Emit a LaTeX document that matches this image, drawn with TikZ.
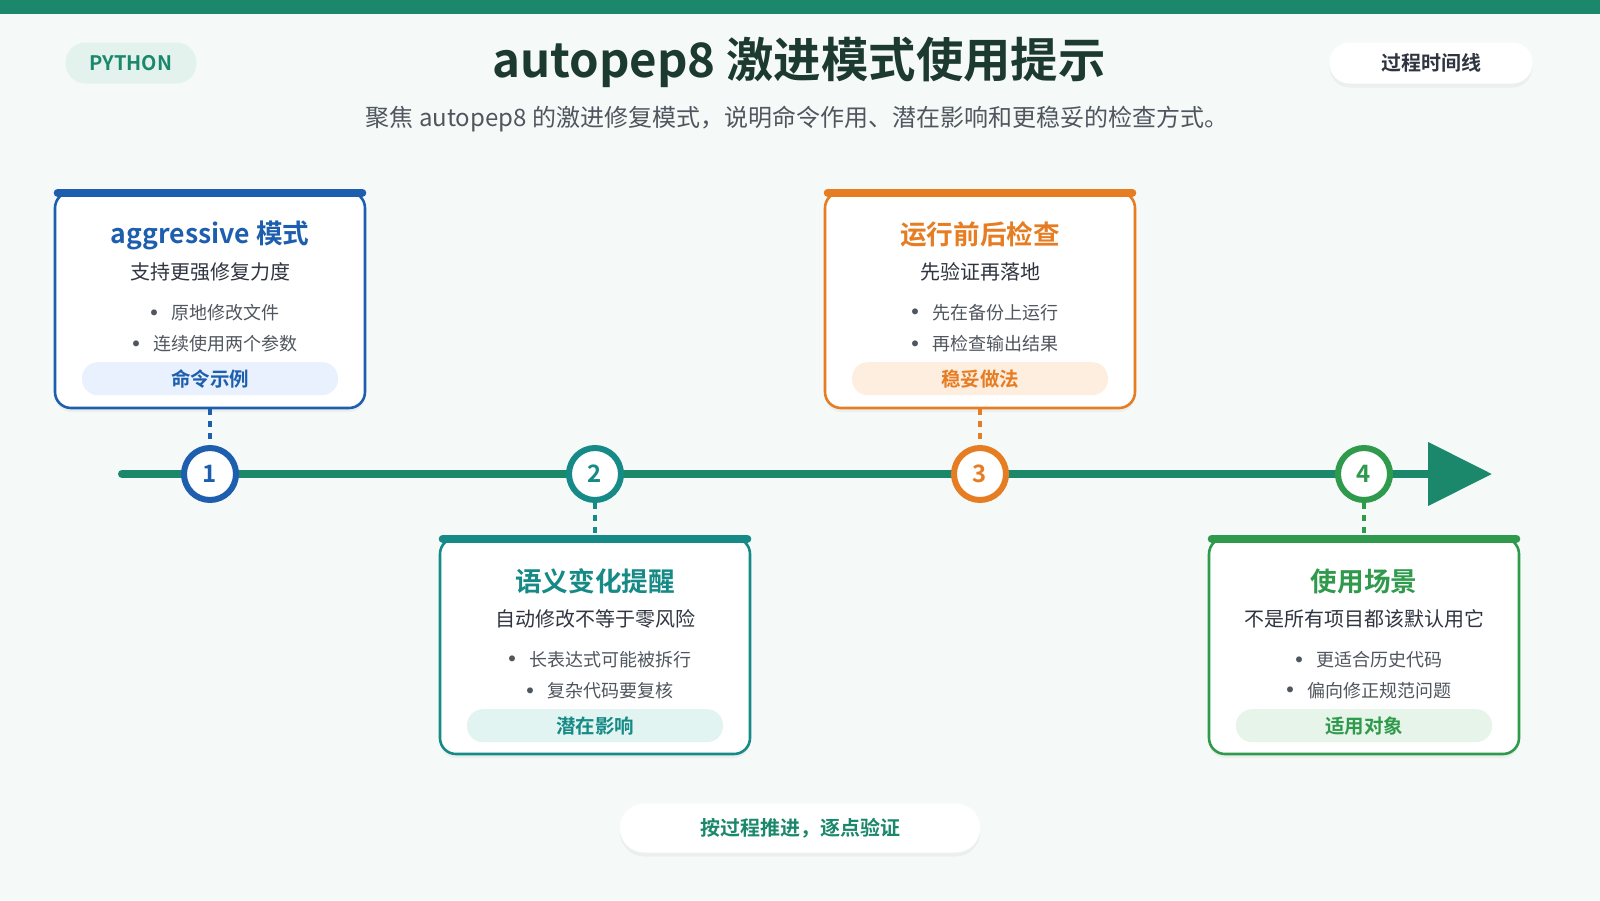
\documentclass[tikz,border=0pt]{standalone}
\usepackage{fontspec}
\setmainfont{Noto Sans CJK SC}[BoldFont={Noto Sans CJK SC Bold}]
\usetikzlibrary{arrows.meta,calc,shadows}
\definecolor{Page}{HTML}{F5FAF8}
\definecolor{Pine}{HTML}{1B876B}
\definecolor{Ink}{HTML}{1C3A2F}
\definecolor{SubInk}{HTML}{2F3540}
\definecolor{Gray}{HTML}{50565E}
\definecolor{Blue}{HTML}{1D5FAE}
\definecolor{BlueTint}{HTML}{E8F1FD}
\definecolor{Teal}{HTML}{168A86}
\definecolor{TealTint}{HTML}{E2F4F1}
\definecolor{Orange}{HTML}{E67D22}
\definecolor{OrangeTint}{HTML}{FDEEDF}
\definecolor{Green}{HTML}{2F9A4C}
\definecolor{GreenTint}{HTML}{E6F4EA}
\definecolor{PillTint}{HTML}{E4F2EE}
\newcommand\dotmark{\raisebox{-1.7pt}{\fontsize{14pt}{11pt}\selectfont•}\hspace{1.5pt}}
\tikzset{
  softshadow/.style={drop shadow={shadow xshift=0pt,shadow yshift=-2pt,opacity=0.04,fill=black}},
  cardbox/.style={draw=#1,line width=1.3pt,fill=white,rounded corners=8pt,minimum width=155pt,minimum height=108pt,softshadow},
  cardbar/.style={draw=#1,line width=4pt,line cap=round},
  ctitle/.style={text=#1,font=\fontsize{13.3pt}{16pt}\selectfont\bfseries},
  csub/.style={text=SubInk,font=\fontsize{10pt}{12pt}\selectfont},
  cbullet/.style={text=Gray,font=\fontsize{9pt}{11pt}\selectfont},
  ctag/.style={fill=#1,rounded corners=8pt,minimum width=128pt,minimum height=16.5pt,font=\fontsize{9.75pt}{12pt}\selectfont\bfseries},
  stepdot/.style={circle,draw=#1,line width=3pt,fill=white,minimum size=26pt,inner sep=0pt,text=#1,font=\fontsize{12pt}{14pt}\selectfont\bfseries},
  stemline/.style={draw=#1,line width=1.6pt,dash pattern=on 3pt off 3pt},
  toppill/.style={rounded corners=10pt,minimum height=20.5pt,font=\fontsize{10pt}{12pt}\selectfont},
}
\begin{document}
\begin{tikzpicture}[x=0.5pt,y=-0.5pt]
  \useasboundingbox (0,0) rectangle (1600,900);
  \fill[Page] (0,0) rectangle (1600,900);
  \fill[Pine] (0,0) rectangle (1600,14);

  % header
  \node[toppill,fill=PillTint,text=Pine,minimum width=65.5pt,font=\fontsize{10pt}{12pt}\selectfont\bfseries] (lang) at (131,63) {PYTHON};
  \node[text=Ink,font=\fontsize{23.7pt}{28pt}\selectfont\bfseries] (title) at (799,62) {autopep8 激进模式使用提示};
  \node[text=Gray,font=\fontsize{12pt}{14pt}\selectfont] (subtitle) at (797,119) {聚焦 autopep8 的激进修复模式，说明命令作用、潜在影响和更稳妥的检查方式。};
  \node[toppill,fill=white,text=SubInk,minimum width=101.5pt,font=\fontsize{10pt}{12pt}\selectfont\bfseries,softshadow] (kind) at (1431,63) {过程时间线};

  % timeline
  \coordinate (tlstart) at (122,474);
  \coordinate (tlend) at (1492,474);
  \draw[Pine,line width=4pt,line cap=round,-{Triangle[length=32pt,width=31pt]}] (tlstart) -- (tlend);
  \node[stepdot=Blue] (s1) at (210,474) {1};
  \node[stepdot=Teal] (s2) at (595,474) {2};
  \node[stepdot=Orange] (s3) at (980,474) {3};
  \node[stepdot=Green] (s4) at (1364,474) {4};

  % card 1
  \node[cardbox=Blue] (c1) at (210,300) {};
  \draw[cardbar=Blue] ($(c1.north west)+(4,2)$) -- ($(c1.north east)+(-4,2)$);
  \node[ctitle=Blue] (c1title) at ($(c1.north)+(0,45)$) {aggressive 模式};
  \node[csub] (c1sub) at ($(c1.north)+(0,81)$) {支持更强修复力度};
  \node[cbullet] (c1b1) at ($(c1.north)+(0,123)$) {\dotmark 原地修改文件};
  \node[cbullet] (c1b2) at ($(c1.north)+(0,154)$) {\dotmark 连续使用两个参数};
  \node[ctag=BlueTint,text=Blue] (c1tag) at ($(c1.north)+(0,188)$) {命令示例};
  \draw[stemline=Blue] (c1.south) -- (s1.north);

  % card 2
  \node[cardbox=Teal] (c2) at (595,646) {};
  \draw[cardbar=Teal] ($(c2.north west)+(4,2)$) -- ($(c2.north east)+(-4,2)$);
  \node[ctitle=Teal] (c2title) at ($(c2.north)+(0,45)$) {语义变化提醒};
  \node[csub] (c2sub) at ($(c2.north)+(0,82)$) {自动修改不等于零风险};
  \node[cbullet] (c2b1) at ($(c2.north)+(0,124)$) {\dotmark 长表达式可能被拆行};
  \node[cbullet] (c2b2) at ($(c2.north)+(0,155)$) {\dotmark 复杂代码要复核};
  \node[ctag=TealTint,text=Teal] (c2tag) at ($(c2.north)+(0,189)$) {潜在影响};
  \draw[stemline=Teal] (s2.south) -- (c2.north);

  % card 3
  \node[cardbox=Orange] (c3) at (980,300) {};
  \draw[cardbar=Orange] ($(c3.north west)+(4,2)$) -- ($(c3.north east)+(-4,2)$);
  \node[ctitle=Orange] (c3title) at ($(c3.north)+(0,44)$) {运行前后检查};
  \node[csub] (c3sub) at ($(c3.north)+(0,81)$) {先验证再落地};
  \node[cbullet] (c3b1) at ($(c3.north)+(0,123)$) {\dotmark 先在备份上运行};
  \node[cbullet] (c3b2) at ($(c3.north)+(0,154)$) {\dotmark 再检查输出结果};
  \node[ctag=OrangeTint,text=Orange] (c3tag) at ($(c3.north)+(0,188)$) {稳妥做法};
  \draw[stemline=Orange] (c3.south) -- (s3.north);

  % card 4
  \node[cardbox=Green] (c4) at (1364,646) {};
  \draw[cardbar=Green] ($(c4.north west)+(4,2)$) -- ($(c4.north east)+(-4,2)$);
  \node[ctitle=Green] (c4title) at ($(c4.north)+(0,45)$) {使用场景};
  \node[csub] (c4sub) at ($(c4.north)+(0,82)$) {不是所有项目都该默认用它};
  \node[cbullet] (c4b1) at ($(c4.north)+(0,124)$) {\dotmark 更适合历史代码};
  \node[cbullet] (c4b2) at ($(c4.north)+(0,155)$) {\dotmark 偏向修正规范问题};
  \node[ctag=GreenTint,text=Green] (c4tag) at ($(c4.north)+(0,189)$) {适用对象};
  \draw[stemline=Green] (s4.south) -- (c4.north);

  % footer
  \node[fill=white,rounded corners=12pt,minimum width=180pt,minimum height=24.5pt,text=Pine,font=\fontsize{10pt}{12pt}\selectfont\bfseries,softshadow] (motto) at (800,828) {按过程推进，逐点验证};
\end{tikzpicture}
\end{document}
